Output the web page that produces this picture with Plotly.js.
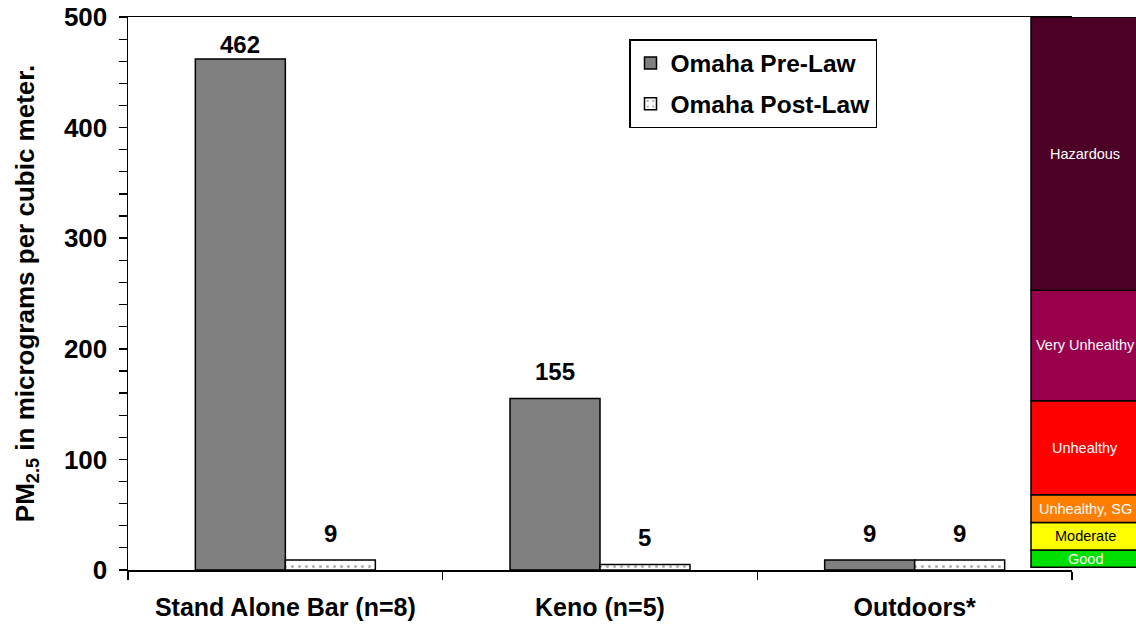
<!DOCTYPE html>
<html><head><meta charset="utf-8">
<script src="https://cdn.plot.ly/plotly-3.0.1.min.js"></script>
<style>html,body{margin:0;padding:0;background:#fff}#chart{width:1136px;height:627px}</style>
</head><body><div id="chart"></div>
<script>
const categories = ['Stand Alone Bar (n=8)', 'Keno (n=5)', 'Outdoors*'];
const preLaw = [462, 155, 9];
const postLaw = [9, 5, 9];
const seriesNames = ['Omaha Pre-Law', 'Omaha Post-Law'];
const bandNames = ['Good', 'Moderate', 'Unhealthy, SG', 'Unhealthy', 'Very Unhealthy', 'Hazardous'];
const bandEdges = [2.5, 18, 43, 68, 153, 253, 500];
const bandColors = ['#00e000', '#ffff00', '#ff7e00', '#ff0000', '#99004c', '#4c0026'];
const bandTextColors = ['#ffffff', '#000000', '#ffffff', '#ffffff', '#ffffff', '#ffffff'];
const yTicks = [0, 100, 200, 300, 400, 500];

const FONT = 'Arial, "Liberation Sans", sans-serif';
const W = 1136, H = 627;
const margin = {l: 128, r: 64, t: 17, b: 57};
const plotW = W - margin.l - margin.r;
const plotH = H - margin.t - margin.b;
const pxToPaperX = px => (px - margin.l) / plotW;
const bargap = 0.428;
const catPx = plotW / categories.length;
const barPx = catPx * (1 - bargap) / 2;

const traces = [
  {type: 'bar', x: categories, y: preLaw, name: seriesNames[0], legendgroup: 'a',
   marker: {color: '#808080', line: {color: '#000', width: 1.5}}, hoverinfo: 'y'},
  {type: 'bar', x: categories, y: postLaw, name: seriesNames[1], legendgroup: 'b',
   marker: {color: '#ffffff', line: {color: '#000', width: 1.5},
            pattern: {shape: '.', size: 7, solidity: 0.15, fgcolor: '#b0b0b0', bgcolor: '#ffffff'}}, hoverinfo: 'y'}
];

const annotations = [];
const pxPerUnit = plotH / 500;
[preLaw, postLaw].forEach((vals, i) => {
  vals.forEach((v, j) => {
    const yLab = Math.min(v + 27 / pxPerUnit, 475);
    annotations.push({x: categories[j], y: yLab, xref: 'x', yref: 'y', text: String(v),
      showarrow: false, xshift: (i === 0 ? -1 : 1) * barPx / 2, yanchor: 'middle',
      font: {family: FONT, size: 24, color: '#000', weight: 'bold'}});
  });
});

const shapes = [];
const bandX0 = pxToPaperX(1031), bandX1 = pxToPaperX(1145);
bandNames.forEach((n, k) => {
  shapes.push({type: 'rect', xref: 'paper', yref: 'y', x0: bandX0, x1: bandX1,
    y0: bandEdges[k], y1: bandEdges[k + 1], fillcolor: bandColors[k],
    line: {color: '#000', width: 1.5}, layer: 'above'});
  annotations.push({xref: 'paper', yref: 'y', x: pxToPaperX(1085), y: (bandEdges[k] + bandEdges[k + 1]) / 2,
    text: n, showarrow: false, xanchor: 'center', yanchor: 'middle',
    font: {family: FONT, size: 14.5, color: bandTextColors[k]}});
});

const layout = {
  width: W, height: H, margin: margin, paper_bgcolor: '#fff', plot_bgcolor: '#fff',
  barmode: 'group', bargap: bargap, bargroupgap: 0,
  font: {family: FONT, color: '#000'},
  showlegend: true,
  legend: {x: pxToPaperX(629), y: 1 - (39 - margin.t) / plotH, xanchor: 'left', yanchor: 'top',
    bordercolor: '#000', borderwidth: 1.5, bgcolor: '#fff', traceorder: 'grouped', tracegroupgap: 6,
    font: {family: FONT, size: 24.5, color: '#000', weight: 'bold'}},
  xaxis: {type: 'category', range: [-0.5, 2.5], showline: true, linecolor: '#000', linewidth: 1.5,
    mirror: true, ticks: 'outside', tickson: 'boundaries', ticklen: 8, tickwidth: 1.5, tickcolor: '#000',
    ticklabelstandoff: 14, showgrid: false, zeroline: false, fixedrange: true,
    tickfont: {family: FONT, size: 25, color: '#000', weight: 'bold'}},
  yaxis: {range: [0, 500], tickvals: yTicks, ticktext: yTicks.map(String), showline: true, linecolor: '#000', linewidth: 1.5,
    ticks: 'outside', ticklen: 8, tickwidth: 1.5, tickcolor: '#000', showgrid: false, zeroline: false,
    minor: {dtick: 20, ticks: 'outside', ticklen: 8, tickwidth: 1.2, tickcolor: '#000'},
    ticklabelstandoff: 6, fixedrange: true,
    tickfont: {family: FONT, size: 26, color: '#000', weight: 'bold'},
    title: {text: 'PM<sub>2.5</sub> in micrograms per cubic meter.', standoff: 22,
      font: {family: FONT, size: 26, color: '#000', weight: 'bold'}}},
  shapes: shapes, annotations: annotations
};
Plotly.newPlot('chart', traces, layout, {displayModeBar: false, staticPlot: true});
</script></body></html>
